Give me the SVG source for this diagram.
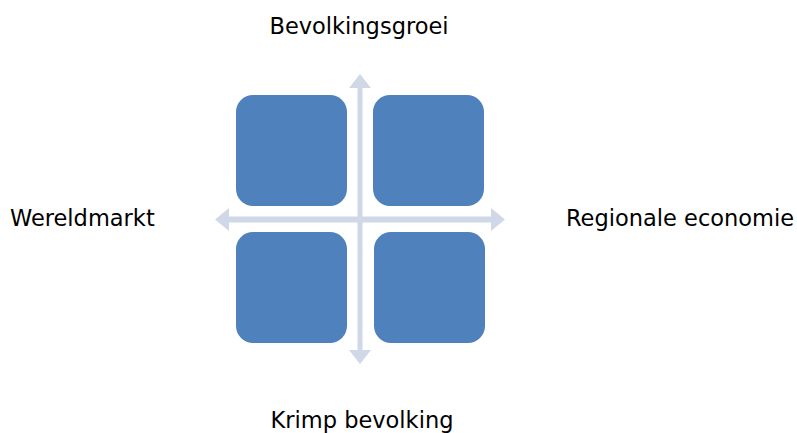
<svg xmlns="http://www.w3.org/2000/svg" width="797" height="433" viewBox="0 0 797 433">
<style>
.box{fill:#4F81BD;}
.arrow{fill:#D0D8E8;}
.lbl{font-family:"DejaVu Sans","Liberation Sans",sans-serif;font-size:22.5px;fill:#000;}
</style>
<rect width="797" height="433" fill="#ffffff"/>
<g id="connectors">
<polygon class="arrow" points="360,74 371,88 362.5,88 362.5,350 371,350 360,364 349,350 357.5,350 357.5,88 349,88"/>
<polygon class="arrow" points="215,219.5 229,208 229,216.5 491,216.5 491,208 505,219.5 491,231 491,222.5 229,222.5 229,231"/>
</g>
<g id="q-top-left"><rect class="box" x="236" y="95" width="111" height="111" rx="17"/></g>
<g id="q-top-right"><rect class="box" x="373" y="95" width="111" height="111" rx="17"/></g>
<g id="q-bottom-left"><rect class="box" x="236" y="232" width="111" height="111" rx="17"/></g>
<g id="q-bottom-right"><rect class="box" x="374" y="232" width="111" height="111" rx="17"/></g>
<g id="label-top"><text class="lbl" x="359" y="34" text-anchor="middle">Bevolkingsgroei</text></g>
<g id="label-left"><text class="lbl" x="10" y="226">Wereldmarkt</text></g>
<g id="label-right"><text class="lbl" x="566" y="226">Regionale economie</text></g>
<g id="label-bottom"><text class="lbl" x="362" y="428" text-anchor="middle">Krimp bevolking</text></g>
</svg>
